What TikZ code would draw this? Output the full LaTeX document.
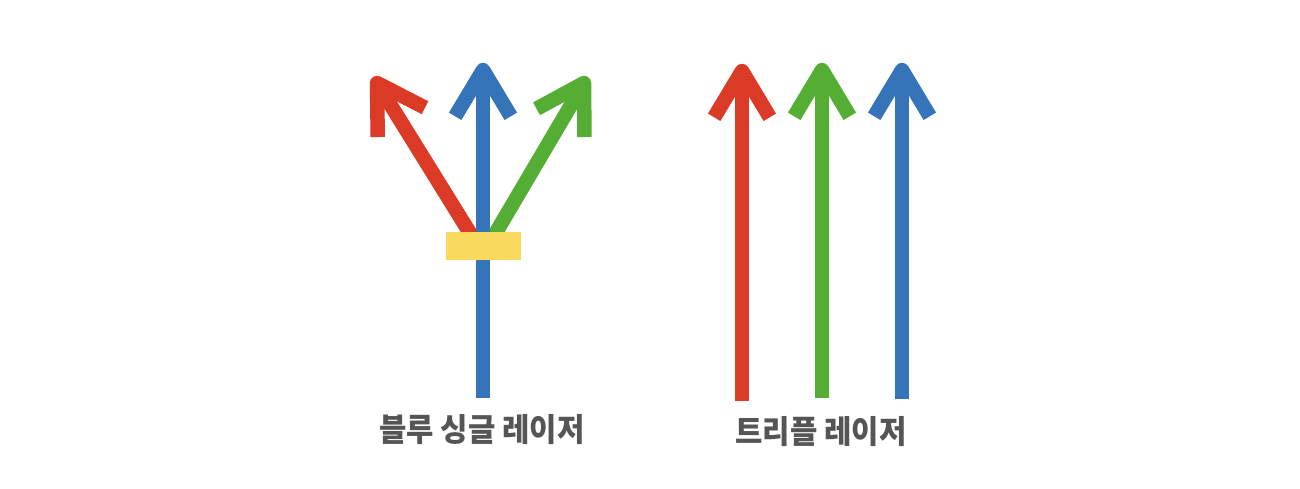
\documentclass[tikz,border=0pt]{standalone}
\usepackage{fontspec}
\newfontfamily\kr[FakeStretch=0.93]{Noto Sans CJK KR}
\usetikzlibrary{calc}
\definecolor{lred}{HTML}{DB3B26}
\definecolor{lgreen}{HTML}{54AE34}
\definecolor{lblue}{HTML}{3574B9}
\definecolor{lyellow}{HTML}{F9DA5E}
\definecolor{ltext}{HTML}{555555}
\tikzset{
  shaft/.style={line width=14.5pt, line cap=butt},
  head/.style={line width=14.5pt, line cap=butt, line join=round},
  label/.style={font=\kr\bfseries\fontsize{32}{36}\selectfont, text=ltext, anchor=base, inner sep=0pt}
}
\newcommand{\laserarrow}[3]{%
  \draw[shaft,#1] (#2) -- (#3);
  \draw[head,#1] ($(#3)!54pt!31:(#2)$) -- (#3) -- ($(#3)!54pt!-31:(#2)$);
}
\begin{document}
\begin{tikzpicture}[x=1pt,y=-1pt]
\useasboundingbox[fill=white] (0,0) rectangle (1300,488);
% left group
\coordinate (bB) at (483,398);
\coordinate (bT) at (483,70);
\coordinate (rB) at (478,246);
\coordinate (rT) at (377,83);
\coordinate (gB) at (488,246);
\coordinate (gT) at (584,83);
\laserarrow{lred}{rB}{rT}
\laserarrow{lgreen}{gB}{gT}
\laserarrow{lblue}{bB}{bT}
\node[fill=lyellow, minimum width=75pt, minimum height=28pt, inner sep=0pt] (filter) at (483.5,246) {};
\node[label] (t1) at (482,441) {블루 싱글 레이저};
% right group
\coordinate (r2B) at (742,401);
\coordinate (r2T) at (742,71);
\coordinate (g2B) at (822,398);
\coordinate (g2T) at (822,70);
\coordinate (b2B) at (902,399);
\coordinate (b2T) at (902,70);
\laserarrow{lred}{r2B}{r2T}
\laserarrow{lgreen}{g2B}{g2T}
\laserarrow{lblue}{b2B}{b2T}
\node[label] (t2) at (821,443) {트리플 레이저};
\end{tikzpicture}
\end{document}
